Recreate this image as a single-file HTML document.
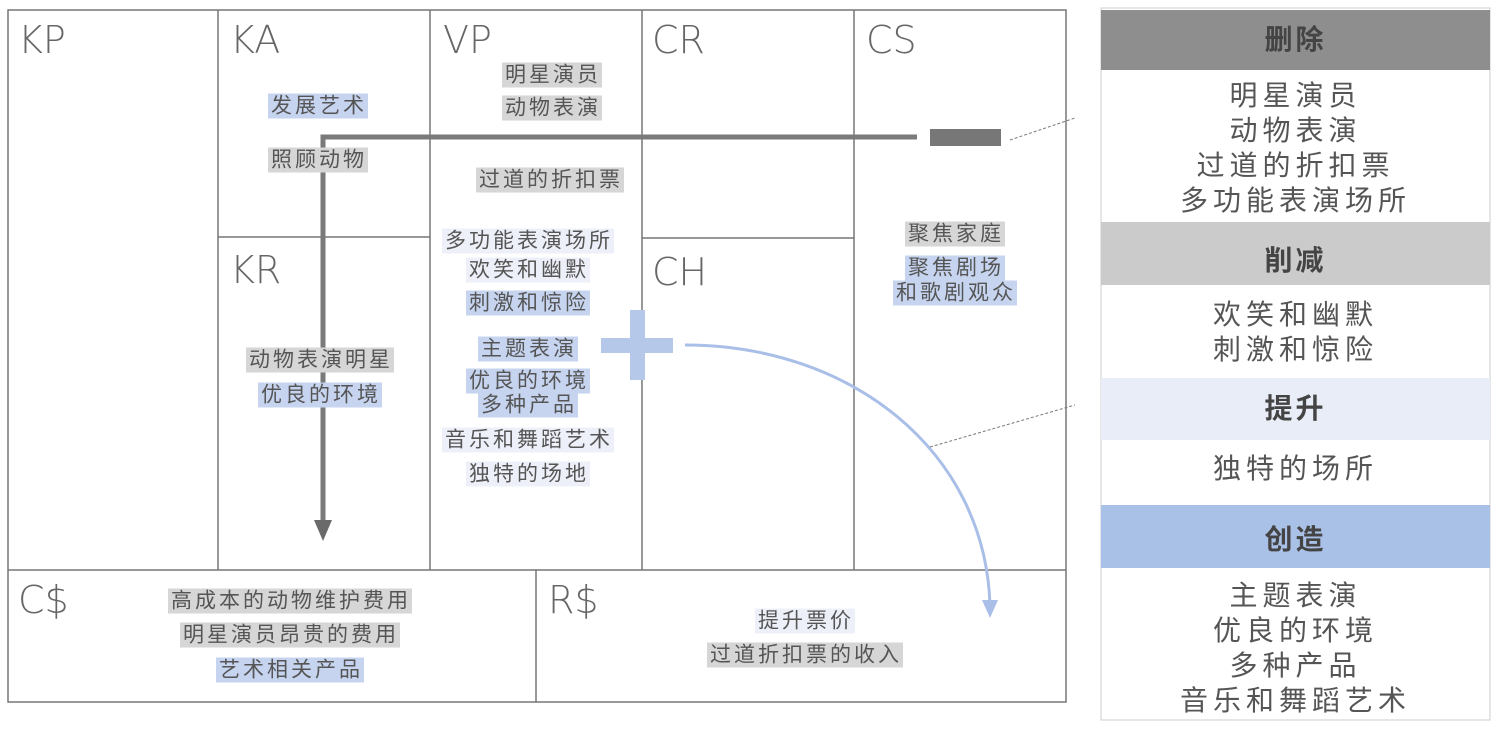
<!DOCTYPE html>
<html><head><meta charset="utf-8"><style>
body{margin:0;width:1500px;height:734px;background:#fff;position:relative;overflow:hidden;font-family:"Liberation Sans","Noto Sans CJK SC",sans-serif;color:#555}
.t{position:absolute;transform:translate(-50%,-50%);font-size:21px;line-height:25px;white-space:nowrap;padding:0 1px 0 3px;letter-spacing:3px}
.g{background:#d6d6d6}.b{background:#c6d4ef}.l{background:#edf0f8}
.h{position:absolute;font-size:38px;color:#666;font-family:"DejaVu Sans",sans-serif;font-weight:200}
.r{position:absolute;left:1101px;width:389px;text-align:center;font-size:28px;line-height:35px;color:#555;letter-spacing:5px}
.hd{font-weight:bold;color:#444;letter-spacing:3px}
</style></head><body>
<svg width="1500" height="734" style="position:absolute;left:0;top:0">
<g stroke="#777" stroke-width="1.5" fill="none">
<rect x="8" y="10" width="1058" height="692"/>
<line x1="8" y1="570" x2="1066" y2="570"/>
<line x1="218" y1="10" x2="218" y2="570"/>
<line x1="430" y1="10" x2="430" y2="570"/>
<line x1="642" y1="10" x2="642" y2="570"/>
<line x1="854" y1="10" x2="854" y2="570"/>
<line x1="536" y1="570" x2="536" y2="702"/>
<line x1="218" y1="237" x2="430" y2="237"/>
<line x1="642" y1="238" x2="854" y2="238"/>
</g>
<g stroke="#7a7a7a" stroke-width="5" fill="none">
<polyline points="917,137 323,137 323,525"/>
</g>
<polygon points="314,520 332,520 323,541" fill="#6a6a6a"/>
<rect x="930" y="129" width="71" height="17" fill="#777"/>
<rect x="601" y="338" width="72" height="15" fill="#b5c8ea"/>
<rect x="630" y="310" width="15" height="70" fill="#b5c8ea"/>
<path d="M685,345 C850,345 985,450 990,605" stroke="#a9bfe8" stroke-width="3" fill="none"/>
<polygon points="982,600 998,600 990,618" fill="#a9bfe8"/>
<g stroke="#777" stroke-width="1" stroke-dasharray="3,2">
<line x1="1010" y1="140" x2="1075" y2="118"/>
<line x1="930" y1="447" x2="1075" y2="405"/>
</g>
<rect x="1101" y="8" width="389" height="712" fill="none" stroke="#ccc"/>
<rect x="1101" y="10" width="389" height="60" fill="#8e8e8e"/>
<rect x="1101" y="222" width="389" height="63" fill="#cbcbcb"/>
<rect x="1101" y="378" width="389" height="62" fill="#e8edf8"/>
<rect x="1101" y="505" width="389" height="63" fill="#aac1e7"/>
</svg>
<div class="h" style="left:18px;top:18px">KP</div>
<div class="h" style="left:230px;top:18px">KA</div>
<div class="h" style="left:443px;top:18px">VP</div>
<div class="h" style="left:652px;top:18px">CR</div>
<div class="h" style="left:866px;top:18px">CS</div>
<div class="h" style="left:230px;top:248px">KR</div>
<div class="h" style="left:652px;top:250px">CH</div>
<div class="h" style="left:18px;top:578px">C$</div>
<div class="h" style="left:548px;top:578px">R$</div>

<span class="t b" style="left:318px;top:106px">发展艺术</span>
<span class="t g" style="left:318px;top:160px">照顾动物</span>
<span class="t g" style="left:552px;top:75px">明星演员</span>
<span class="t g" style="left:552px;top:108px">动物表演</span>
<span class="t g" style="left:550px;top:180px">过道的折扣票</span>
<span class="t l" style="left:528px;top:241px">多功能表演场所</span>
<span class="t l" style="left:528px;top:270px">欢笑和幽默</span>
<span class="t b" style="left:528px;top:303px">刺激和惊险</span>
<span class="t b" style="left:528px;top:349px">主题表演</span>
<span class="t b" style="left:528px;top:381px">优良的环境</span>
<span class="t b" style="left:528px;top:405px">多种产品</span>
<span class="t l" style="left:528px;top:440px">音乐和舞蹈艺术</span>
<span class="t l" style="left:528px;top:474px">独特的场地</span>
<span class="t g" style="left:320px;top:360px">动物表演明星</span>
<span class="t b" style="left:320px;top:395px">优良的环境</span>
<span class="t g" style="left:955px;top:234px">聚焦家庭</span>
<span class="t b" style="left:955px;top:268px">聚焦剧场</span>
<span class="t b" style="left:955px;top:293px">和歌剧观众</span>
<span class="t g" style="left:290px;top:601px">高成本的动物维护费用</span>
<span class="t g" style="left:290px;top:635px">明星演员昂贵的费用</span>
<span class="t b" style="left:290px;top:670px">艺术相关产品</span>
<span class="t l" style="left:805px;top:621px">提升票价</span>
<span class="t g" style="left:805px;top:655px">过道折扣票的收入</span>

<div class="r hd" style="top:22px">删除</div>
<div class="r" style="top:78px">明星演员<br>动物表演<br>过道的折扣票<br>多功能表演场所</div>
<div class="r hd" style="top:243px">削减</div>
<div class="r" style="top:297px">欢笑和幽默<br>刺激和惊险</div>
<div class="r hd" style="top:391px">提升</div>
<div class="r" style="top:451px">独特的场所</div>
<div class="r hd" style="top:522px">创造</div>
<div class="r" style="top:578px">主题表演<br>优良的环境<br>多种产品<br>音乐和舞蹈艺术</div>
</body></html>
